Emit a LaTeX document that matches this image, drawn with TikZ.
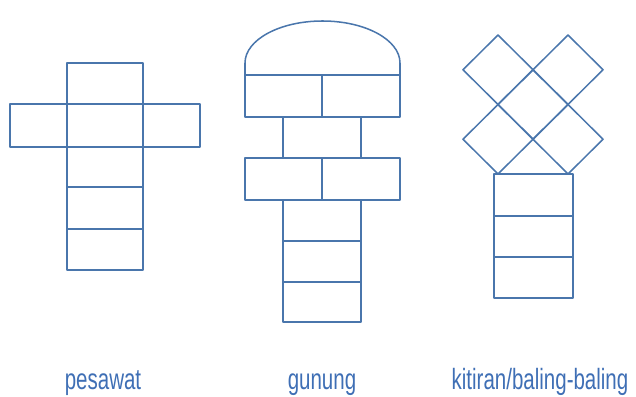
\documentclass[tikz,border=0pt]{standalone}
\usepackage{fontspec}
\newfontfamily\labelfont{Liberation Sans}
\definecolor{hopline}{HTML}{4A76AC}
\definecolor{hoptext}{HTML}{3F6FB5}

\begin{document}
\begin{tikzpicture}[
    x=0.03cm, y=-0.03cm,
    line cap=round,
    line join=round,
    edge/.style={draw=hopline, line width=1.3pt},
    caption/.style={anchor=base, text=hoptext, inner sep=0pt,
      font=\labelfont\fontsize{25}{28}\selectfont}
]
\useasboundingbox (0,0) rectangle (636,397);

% pesawat
\begin{scope}
  \draw[edge] (67,63) rectangle (143,270);
  \foreach \y in {104,147,187,229}
    \draw[edge] (67,\y) -- (143,\y);
  \draw[edge] (10,104) rectangle (200,147);
\end{scope}

% gunung
\begin{scope}
  \draw[edge] (245,75) -- (245,63)
    arc[start angle=180, end angle=360, x radius=77.5, y radius=42]
    -- (400,75) -- cycle;
  \draw[edge] (245,75) rectangle (400,117);
  \draw[edge] (322,75) -- (322,117);
  \draw[edge] (283,117) rectangle (361,158);
  \draw[edge] (245,158) rectangle (400,200);
  \draw[edge] (322,158) -- (322,200);
  \draw[edge] (283,200) rectangle (361,322);
  \foreach \y in {241,282}
    \draw[edge] (283,\y) -- (361,\y);
\end{scope}

% kitiran
\begin{scope}
  \foreach \cx/\cy in {498/69.75, 568/69.75, 533/104.5, 498/139.25, 568/139.25}
    \draw[edge] (\cx,\cy-34.75) -- (\cx+35,\cy) -- (\cx,\cy+34.75) -- (\cx-35,\cy) -- cycle;
  \draw[edge] (494,174) rectangle (573,298);
  \foreach \y in {216,257}
    \draw[edge] (494,\y) -- (573,\y);
\end{scope}

\node[caption] (pesawat) at (103,389) {\scalebox{0.7}[1]{pesawat}};
\node[caption] (gunung)  at (322,389) {\scalebox{0.7}[1]{gunung}};
\node[caption] (kitiran) at (540,389) {\scalebox{0.7}[1]{kitiran/baling-baling}};
\end{tikzpicture}
\end{document}
